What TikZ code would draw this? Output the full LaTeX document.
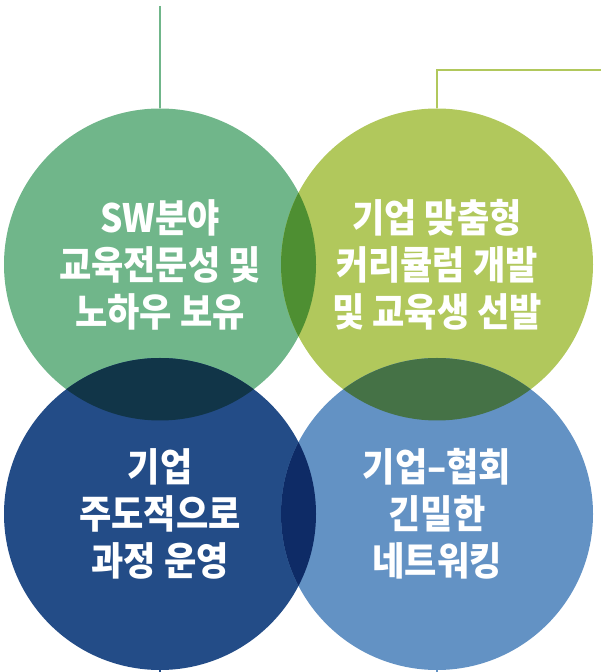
\documentclass[tikz,border=0pt]{standalone}
\usepackage{fontspec}
\newfontfamily\kofont{Noto Sans CJK KR}[FakeStretch=0.9]
\usepackage{tikz}

\definecolor{swgreen}{RGB}{112,182,138}
\definecolor{corpgreen}{RGB}{177,200,92}
\definecolor{opblue}{RGB}{35,76,135}
\definecolor{netblue}{RGB}{99,146,196}
\definecolor{lenstop}{RGB}{78,143,50}
\definecolor{lensleft}{RGB}{17,53,72}
\definecolor{lensright}{RGB}{69,114,70}
\definecolor{lensbottom}{RGB}{14,43,102}

\tikzset{
	bubble/.style={circle, minimum size=312pt, inner sep=0pt},
	bubbletext/.style={align=center, text=white, font=\kofont\bfseries\fontsize{39}{47}\selectfont},
	stem/.style={line width=2pt}
}

\begin{document}
\begin{tikzpicture}[x=1pt,y=1pt]
		\useasboundingbox (0,0) rectangle (601,672);

		\node[bubble, fill=swgreen] (sw) at (160,407.5) {};
		\node[bubble, fill=corpgreen] (corp) at (437,407.5) {};
		\node[bubble, fill=opblue] (op) at (160,158) {};
		\node[bubble, fill=netblue] (net) at (437,158) {};

		% overlaps
		\begin{scope}
			\clip (sw.center) circle (156);
			\fill[lenstop] (corp.center) circle (156);
			\fill[lensleft] (op.center) circle (156);
		\end{scope}
		\begin{scope}
			\clip (net.center) circle (156);
			\fill[lensright] (corp.center) circle (156);
			\fill[lensbottom] (op.center) circle (156);
		\end{scope}

		\node[bubbletext] (swtext) at (sw.center) {SW분야\\교육전문성 및\\노하우 보유};
		\node[bubbletext] (corptext) at (corp.center) {기업 맞춤형\\커리큘럼 개발\\및 교육생 선발};
		\node[bubbletext] (optext) at (op.center) {기업\\주도적으로\\과정 운영};
		\node[bubbletext] (nettext) at (net.center) {기업–협회\\긴밀한\\네트워킹};

		\coordinate (swtop) at (160,666);
		\coordinate (corpend) at (601,602);
		\coordinate (opfoot) at (160,0);
		\coordinate (netfoot) at (437,0);

		\draw[stem, swgreen] (swtop) -- (sw.north);
		\draw[stem, corpgreen] (corp.north) |- (corpend);
		\draw[stem, opblue] (op.south) -- (opfoot);
		\draw[stem, netblue] (net.south) -- (netfoot);

	\end{tikzpicture}
\end{document}
